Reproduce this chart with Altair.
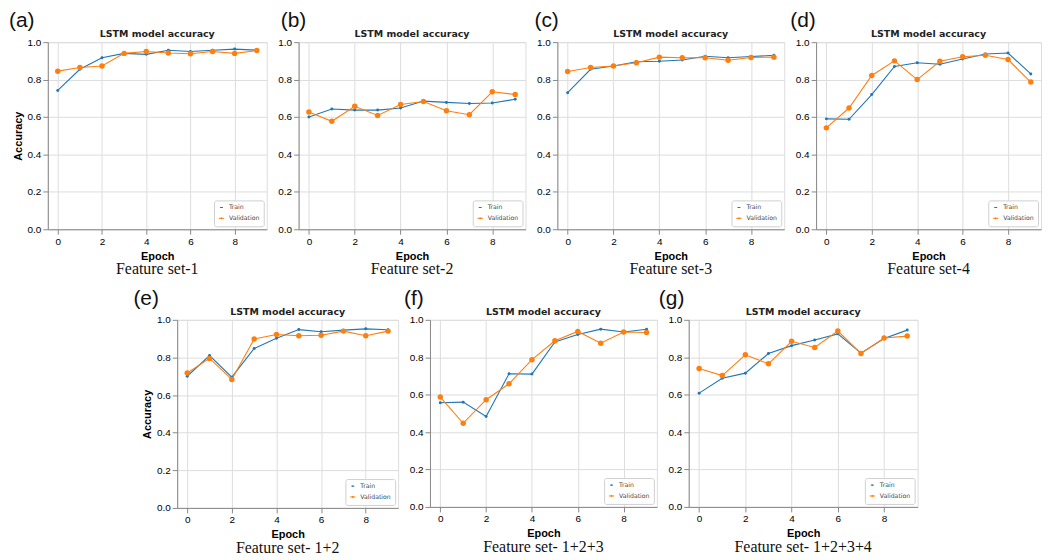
import altair as alt
import pandas as pd

epochs = list(range(10))
series_names = ["Train", "Validation"]
series_colors = ["#1f77b4", "#ff7f0e"]
panel_title = "LSTM model accuracy"
x_ticks = [0, 2, 4, 6, 8]
y_ticks = [0.0, 0.2, 0.4, 0.6, 0.8, 1.0]

letters = ["(a)", "(b)", "(c)", "(d)", "(e)", "(f)", "(g)"]
captions = ["Feature set-1", "Feature set-2", "Feature set-3", "Feature set-4",
            "Feature set- 1+2", "Feature set- 1+2+3", "Feature set- 1+2+3+4"]

train_a = [0.742, 0.855, 0.917, 0.940, 0.935, 0.957, 0.950, 0.957, 0.963, 0.957]
val_a = [0.845, 0.865, 0.873, 0.940, 0.950, 0.942, 0.938, 0.950, 0.940, 0.955]
train_b = [0.600, 0.643, 0.637, 0.637, 0.648, 0.685, 0.678, 0.672, 0.675, 0.695]
val_b = [0.627, 0.577, 0.657, 0.608, 0.667, 0.683, 0.633, 0.612, 0.735, 0.720]
train_c = [0.730, 0.855, 0.873, 0.895, 0.898, 0.905, 0.925, 0.917, 0.923, 0.930]
val_c = [0.843, 0.865, 0.873, 0.890, 0.920, 0.917, 0.917, 0.903, 0.918, 0.920]
train_d = [0.590, 0.588, 0.720, 0.870, 0.890, 0.882, 0.910, 0.937, 0.942, 0.830]
val_d = [0.542, 0.648, 0.822, 0.900, 0.800, 0.898, 0.922, 0.930, 0.907, 0.787]
train_e = [0.700, 0.810, 0.695, 0.848, 0.902, 0.948, 0.937, 0.945, 0.952, 0.947]
val_e = [0.717, 0.795, 0.683, 0.898, 0.922, 0.915, 0.918, 0.940, 0.915, 0.940]
train_f = [0.557, 0.560, 0.483, 0.712, 0.710, 0.882, 0.922, 0.950, 0.935, 0.950]
val_f = [0.587, 0.447, 0.573, 0.658, 0.787, 0.888, 0.938, 0.875, 0.935, 0.932]
train_g = [0.608, 0.688, 0.715, 0.820, 0.862, 0.892, 0.925, 0.822, 0.900, 0.945]
val_g = [0.740, 0.702, 0.813, 0.765, 0.885, 0.852, 0.940, 0.820, 0.903, 0.913]

LEGEND_PATH = "M-1,0H1M-0.22,0A0.22,0.22,0,1,0,0.22,0A0.22,0.22,0,1,0,-0.22,0Z"


def panel(train, val, letter, caption, width, height, letter_dx, show_ytitle):
    df = pd.DataFrame({
        "Epoch": epochs + epochs,
        "Accuracy": train + val,
        "series": ["Train"] * len(train) + ["Validation"] * len(val),
    })
    color = alt.Color(
        "series:N",
        scale=alt.Scale(domain=series_names, range=series_colors),
        legend=alt.Legend(
            title=None, orient="bottom-right", offset=3, padding=4,
            strokeColor="#d0d0d0", fillColor="white", cornerRadius=2,
            labelFont="DejaVu Sans", labelFontSize=6.2, labelColor="#444",
            symbolType=LEGEND_PATH, symbolSize=196, symbolStrokeWidth=1,
            symbolOpacity=1, rowPadding=3.5, labelOffset=4,
        ),
    )
    x = alt.X("Epoch:Q", scale=alt.Scale(domain=[-0.45, 9.45], nice=False, zero=False),
              axis=alt.Axis(values=x_ticks, title="Epoch", format="d"))
    yaxis = dict(values=y_ticks, format=".1f")
    yaxis["title"] = "Accuracy" if show_ytitle else ""
    y = alt.Y("Accuracy:Q", scale=alt.Scale(domain=[0, 1], nice=False), axis=alt.Axis(**yaxis))
    base = alt.Chart(df)
    line = base.mark_line(strokeWidth=1.1).encode(x=x, y=y, color=color)
    pts = base.mark_point(filled=True, opacity=1).encode(
        x=x, y=y, color=color,
        size=alt.Size("series:N", scale=alt.Scale(domain=series_names, range=[9, 30]), legend=None),
    )
    ttl = alt.Chart(pd.DataFrame({"t": [panel_title]})).mark_text(
        font="DejaVu Sans", fontSize=9.5, fontWeight="bold", align="center",
        baseline="alphabetic", color="#222"
    ).encode(text="t:N", x=alt.value(width / 2), y=alt.value(-5))
    lab = alt.Chart(pd.DataFrame({"t": [letter]})).mark_text(
        font="Liberation Sans", fontSize=21, align="left", baseline="middle", color="#111"
    ).encode(text="t:N", x=alt.value(letter_dx), y=alt.value(-21))
    cap = alt.Chart(pd.DataFrame({"t": [caption]})).mark_text(
        font="Liberation Serif", fontSize=16, align="center", baseline="middle", color="#111"
    ).encode(text="t:N", x=alt.value(width / 2), y=alt.value(height + 40))
    return alt.layer(line, pts, ttl, lab, cap).properties(width=width, height=height)


pa = panel(train_a, val_a, letters[0], captions[0], 220, 188, -39, True)
pb = panel(train_b, val_b, letters[1], captions[1], 228, 188, -18, False)
pc = panel(train_c, val_c, letters[2], captions[2], 228, 188, -23, False)
pd_ = panel(train_d, val_d, letters[3], captions[3], 226, 188, -26, False)
pe = panel(train_e, val_e, letters[4], captions[4], 222, 189, -44, True)
pf = panel(train_f, val_f, letters[5], captions[5], 228, 188, -26, False)
pg = panel(train_g, val_g, letters[6], captions[6], 230, 188, -30, False)

spacer = alt.Chart(pd.DataFrame({"v": [0]})).mark_point(opacity=0).encode(
    x=alt.value(0), y=alt.value(0)
).properties(width=98, height=1, view=alt.ViewBackground(strokeOpacity=0))

row1 = alt.hconcat(pa, pb, pc, pd_, spacing=32, bounds="flush").resolve_scale(
    color="independent", size="independent").resolve_legend(color="independent")
row2 = alt.hconcat(spacer, pe, pf, pg, spacing=32, bounds="flush").resolve_scale(
    color="independent", size="independent").resolve_legend(color="independent")

chart = alt.vconcat(row1, row2, spacing=9).resolve_scale(
    color="independent", size="independent").resolve_legend(color="independent").properties(
    padding={"left": 0, "top": 0, "right": 0, "bottom": 0}
).configure_view(stroke="#8c8c8c", strokeWidth=1).configure_axis(
    domain=False, grid=False, labelFont="DejaVu Sans", labelFontSize=7, labelFontWeight="bold",
    labelColor="#333", tickColor="#555", tickSize=3, labelPadding=0,
    titleFont="DejaVu Sans", titleFontSize=7, titleFontWeight="bold", titleColor="#222",
    titlePadding=0,
).configure(background="white")

chart.save("out.html", embed_options={"renderer": "svg", "actions": False})
